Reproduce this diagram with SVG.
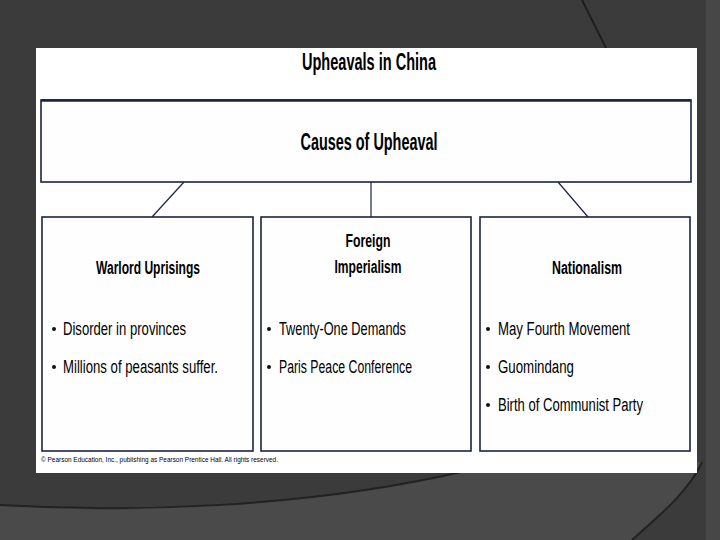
<svg xmlns="http://www.w3.org/2000/svg" width="720" height="540" viewBox="0 0 720 540">
<style>
.box{fill:#fefeff;stroke:#1c2244;stroke-width:1.6}
.conn{stroke:#1c2244;stroke-width:1.2;fill:none}
.t{font-family:"Liberation Sans Narrow","Liberation Sans",Arial,sans-serif;fill:#000}
.h{font-weight:bold;text-anchor:middle}
.b{font-size:18px}
.dot{fill:#111}
</style>
<rect width="720" height="540" fill="#3b3b3b"/>
<path d="M0,505 C120,512 300,510 470,470 L702,462 C690,490 660,515 632,540 L0,540 Z" fill="#4a4a4a"/>
<path d="M0,505 C120,512 300,510 470,470" stroke="#222" stroke-width="2" fill="none"/>
<path d="M702,462 C690,490 660,515 632,540" stroke="#222" stroke-width="2" fill="none"/>
<rect x="706" y="0" width="14" height="540" fill="#474747"/>
<line x1="582" y1="0" x2="606" y2="48" stroke="#1e1e1e" stroke-width="2"/>
<rect x="36" y="48" width="661" height="425" fill="#fff"/>
<text class="t h" x="369" y="70" font-size="23" textLength="134" lengthAdjust="spacingAndGlyphs">Upheavals in China</text>
<g id="connectors">
<line class="conn" x1="184" y1="182" x2="152" y2="217"/>
<line class="conn" x1="371" y1="182" x2="371" y2="217"/>
<line class="conn" x1="558" y1="182" x2="588" y2="217"/>
</g>
<g id="causes">
<rect class="box" x="41" y="100" width="650" height="82"/>
<line x1="41" y1="100.5" x2="691" y2="100.5" stroke="#1c2244" stroke-width="2.5"/>
<text class="t h" x="369" y="150" font-size="23" textLength="137" lengthAdjust="spacingAndGlyphs">Causes of Upheaval</text>
</g>
<g id="warlord">
<rect class="box" x="42" y="217" width="211" height="234"/>
<text class="t h b" x="148" y="274" textLength="104" lengthAdjust="spacingAndGlyphs">Warlord Uprisings</text>
<circle class="dot" cx="54" cy="329" r="2"/>
<text class="t b" x="63" y="335" textLength="123" lengthAdjust="spacingAndGlyphs">Disorder in provinces</text>
<circle class="dot" cx="54" cy="367" r="2"/>
<text class="t b" x="63" y="373" textLength="155" lengthAdjust="spacingAndGlyphs">Millions of peasants suffer.</text>
</g>
<g id="foreign">
<rect class="box" x="261" y="217" width="210" height="234"/>
<text class="t h b" x="368" y="247" textLength="45" lengthAdjust="spacingAndGlyphs">Foreign</text>
<text class="t h b" x="368" y="273" textLength="67" lengthAdjust="spacingAndGlyphs">Imperialism</text>
<circle class="dot" cx="269" cy="329" r="2"/>
<text class="t b" x="279" y="335" textLength="127" lengthAdjust="spacingAndGlyphs">Twenty-One Demands</text>
<circle class="dot" cx="269" cy="367" r="2"/>
<text class="t b" x="279" y="373" textLength="133" lengthAdjust="spacingAndGlyphs">Paris Peace Conference</text>
</g>
<g id="nationalism">
<rect class="box" x="480" y="217" width="210" height="234"/>
<text class="t h b" x="587" y="274" textLength="70" lengthAdjust="spacingAndGlyphs">Nationalism</text>
<circle class="dot" cx="488" cy="329" r="2"/>
<text class="t b" x="498" y="335" textLength="132" lengthAdjust="spacingAndGlyphs">May Fourth Movement</text>
<circle class="dot" cx="488" cy="367" r="2"/>
<text class="t b" x="498" y="373" textLength="76" lengthAdjust="spacingAndGlyphs">Guomindang</text>
<circle class="dot" cx="488" cy="405" r="2"/>
<text class="t b" x="498" y="411" textLength="145" lengthAdjust="spacingAndGlyphs">Birth of Communist Party</text>
</g>
<text class="t" x="41" y="462" font-size="8" fill="#333" textLength="237" lengthAdjust="spacingAndGlyphs">© Pearson Education, Inc., publishing as Pearson Prentice Hall. All rights reserved.</text>
</svg>
